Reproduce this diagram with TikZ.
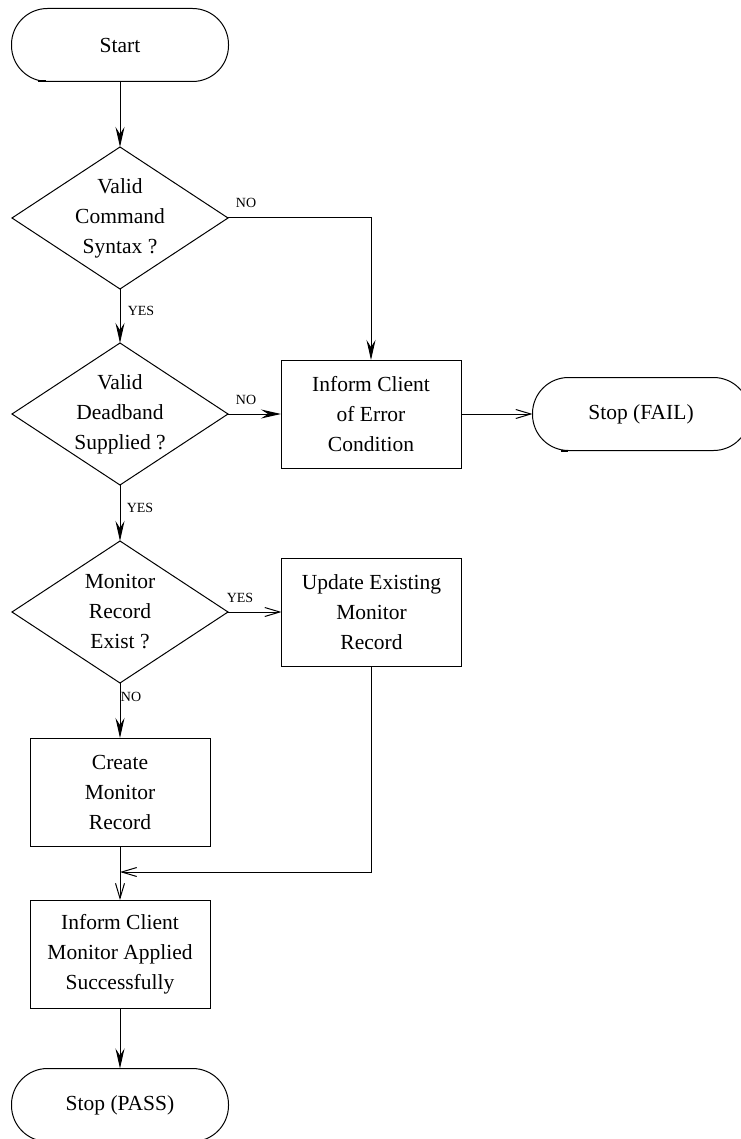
\documentclass[tikz,border=0pt]{standalone}
\usepackage{fontspec}
\setmainfont{Liberation Serif}
\usetikzlibrary{shapes.geometric,arrows.meta}
\begin{document}
\begin{tikzpicture}[x=1pt,y=-1pt,
  line width=1pt,
  every node/.style={font=\fontsize{21.5}{30}\selectfont, align=center, inner sep=0pt, outer sep=0pt},
  term/.style={draw, rounded corners=36pt, minimum width=217pt, minimum height=73pt},
  decision/.style={draw, diamond, aspect=1.52, minimum width=216pt, minimum height=142pt},
  proc/.style={draw, minimum width=180pt, minimum height=108pt},
  tag/.style={font=\fontsize{14}{14}\selectfont},
  solid arrow/.style={-{Stealth[length=20pt,width=9pt,inset=7pt]}},
  open arrow/.style={-{Straight Barb[length=15pt,width=9pt,line width=1pt]}},
  endmark/.style={line width=2pt}
]
\useasboundingbox (0,0) rectangle (740,1139);

% terminals
\node[term] (start) at (120,45) {Start};
\node[term] (fail) at (641,414) {Stop (FAIL)};
\node[term] (pass) at (120,1105) {Stop (PASS)};
\draw[endmark] (38,81.5) -- (46,81.5);
\draw[endmark] (561,450.5) -- (568,450.5);

% decisions
\node[decision] (d1) at (120,218) {Valid\\Command\\Syntax ?};
\node[decision] (d2) at (120,414) {Valid\\Deadband\\Supplied ?};
\node[decision] (d3) at (120,612) {Monitor\\Record\\Exist ?};

% processes
\node[proc] (err) at (371,414) {Inform Client\\of Error\\Condition};
\node[proc] (upd) at (371.5,612) {Update Existing\\Monitor\\Record};
\node[proc] (crt) at (120,792) {Create\\Monitor\\Record};
\node[proc] (inf) at (120,954) {Inform Client\\Monitor Applied\\Successfully};

\coordinate (join) at (120,872);

% connectors
\draw[solid arrow] (start) -- (d1);
\draw[solid arrow] (d1.east) -- (d1.east -| err.north) -- (err.north);
\draw[solid arrow] (d1) -- (d2);
\draw[solid arrow] (d2) -- (err);
\draw[open arrow] (err) -- (fail);
\draw[solid arrow] (d2) -- (d3);
\draw[open arrow] (d3) -- (upd);
\draw[solid arrow] (d3) -- (crt);
\draw[open arrow] (crt) -- (inf);
\draw[open arrow] (upd.south) |- (join);
\draw[solid arrow] (inf) -- (pass);

% branch labels
\node[tag] (n1) at (246,203) {NO};
\node[tag] (y1) at (141,311) {YES};
\node[tag] (n2) at (246,400) {NO};
\node[tag] (y2) at (140,508) {YES};
\node[tag] (y3) at (240,598) {YES};
\node[tag] (n3) at (131,697) {NO};
\end{tikzpicture}
\end{document}
